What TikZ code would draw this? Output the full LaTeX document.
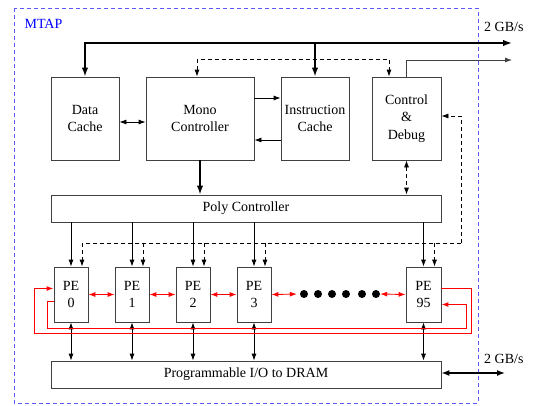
\documentclass[tikz,border=0pt]{standalone}
\usepackage{fontspec}
\setmainfont{Liberation Serif}
\usetikzlibrary{arrows.meta}
\begin{document}
\begin{tikzpicture}[x=1pt,y=-1pt,
 box/.style={draw=black!75, line width=0.8pt, inner sep=0pt, align=center, font=\fontsize{14}{17.5}\selectfont},
 ar/.style={-{Latex[length=7pt,width=5pt]}, line width=0.8pt},
 dar/.style={{Latex[length=7pt,width=5pt]}-{Latex[length=7pt,width=5pt]}, line width=0.8pt},
 thk/.style={line width=1.6pt, -{Latex[length=9pt,width=6.5pt]}},
 dsh/.style={dash pattern=on 4pt off 3pt},
 rd/.style={draw=red, line width=1.2pt, -{Latex[length=7pt,width=5pt,fill=red,color=red]}},
 rar/.style={red, {Latex[length=7pt,width=5pt]}-{Latex[length=7pt,width=5pt]}, line width=0.9pt},
 dot/.style={circle, fill=black, inner sep=0pt, minimum size=8pt},
 lbl/.style={font=\fontsize{14}{17}\selectfont, inner sep=0pt}
]
\useasboundingbox (0,0) rectangle (533,405);
\draw[blue!65, line width=0.8pt, dsh] (14,8) rectangle (478,403);
\node[lbl, text=blue] (mtap) at (43.5,24) {MTAP};
\node[lbl, anchor=west] (gb1) at (484,27) {2 GB/s};
\node[lbl, anchor=west] (gb2) at (484,359) {2 GB/s};

\node[box, minimum width=68pt, minimum height=83pt] (dc) at (85,118.5) {Data\\Cache};
\node[box, minimum width=108pt, minimum height=83pt] (mc) at (200,118.5) {Mono\\Controller};
\node[box, minimum width=68pt, minimum height=83pt] (ic) at (315,118.5) {Instruction\\Cache};
\node[box, minimum width=69pt, minimum height=83pt] (cd) at (406.5,118.5) {Control\\\&\\Debug};
\node[box, minimum width=390pt, minimum height=27pt] (poly) at (246,208.5) {Poly Controller};
\node[box, minimum width=390pt, minimum height=27pt] (prog) at (246,374.5) {Programmable I/O to DRAM};
\node[box, minimum width=34pt, minimum height=55pt] (pe0) at (71,294.5) {PE\\0};
\node[box, minimum width=34pt, minimum height=55pt] (pe1) at (132,294.5) {PE\\1};
\node[box, minimum width=34pt, minimum height=55pt] (pe2) at (193,294.5) {PE\\2};
\node[box, minimum width=34pt, minimum height=55pt] (pe3) at (254,294.5) {PE\\3};
\node[box, minimum width=35pt, minimum height=55pt] (pe95) at (423.5,294.5) {PE\\95};

\node[dot] (d1) at (304,294) {};
\node[dot] (d2) at (318,294) {};
\node[dot] (d3) at (332,294) {};
\node[dot] (d4) at (346,294) {};
\node[dot] (d5) at (362,294) {};
\node[dot] (d6) at (376,294) {};

% top bus
\coordinate (bus) at (512,43);
\draw[line width=1.6pt, {Latex[length=9pt,width=6.5pt]}-{Latex[length=9pt,width=6.5pt]}] (dc.north) -- (dc.north |- bus) -- (bus);
\draw[thk] (ic.north |- bus) -- (ic.north);
\coordinate (c2) at (512,60);
\draw[ar, draw=black!75] (cd.north) -- (cd.north |- c2) -- (c2);
% dashed top
\draw[dar, dsh] ([xshift=-3pt]mc.north) -- ++(0,-17) -| ([xshift=-17.5pt]cd.north);
% cache links
\draw[dar] ([yshift=-3.5pt]dc.east) -- ([yshift=-3.5pt]mc.west);
\draw[ar] ([yshift=20.5pt]mc.east) -- ([yshift=20.5pt]ic.west);
\draw[ar] ([yshift=-21.5pt]ic.west) -- ([yshift=-21.5pt]mc.east);
% control to poly
\draw[dar, dsh] (cd.south) -- (cd.south |- poly.north);
\draw[thk] (mc.south) -- (mc.south |- poly.north);
% dashed debug loop
\coordinate (cdr) at (461,116);
\coordinate (dl) at (461,243);
\draw[ar, dsh] (dl) -- (cdr) -- (cd.east |- cdr);
\draw[dsh, line width=0.8pt] (dl) -- ([xshift=11pt]pe0.north |- dl);
\foreach \p in {pe0,pe1,pe2,pe3,pe95}{
  \draw[ar, dsh] ([xshift=11pt]\p.north |- dl) -- ([xshift=11pt]\p.north);
  \draw[ar] (\p.north |- poly.south) -- (\p.north);
  \draw[dar] (\p.south) -- (\p.south |- prog.north);
}
% red links
\draw[rar] (pe0.east) -- (pe1.west);
\draw[rar] (pe1.east) -- (pe2.west);
\draw[rar] (pe2.east) -- (pe3.west);
\draw[rar, shorten >=3pt] (pe3.east) -- (d1.west);
\draw[rar] (d6.east) -- (pe95.west);
\coordinate (ro1) at (471.5,333.5);
\coordinate (ro2) at (34.5,333.5);
\draw[rd] ([yshift=6pt]pe95.east) -| (ro1) -- (ro2) |- ([yshift=6pt]pe0.west);
\coordinate (ri1) at (47.5,328.5);
\coordinate (ri2) at (466.5,328.5);
\draw[rd] ([yshift=-7pt]pe0.west) -| (ri1) -- (ri2) |- ([yshift=-10pt]pe95.east);
% prog right
\coordinate (pr) at (505,373);
\draw[line width=1.4pt, {Latex[length=8pt,width=6pt]}-{Latex[length=8pt,width=6pt]}] (prog.east |- pr) -- (pr);
\end{tikzpicture}
\end{document}
